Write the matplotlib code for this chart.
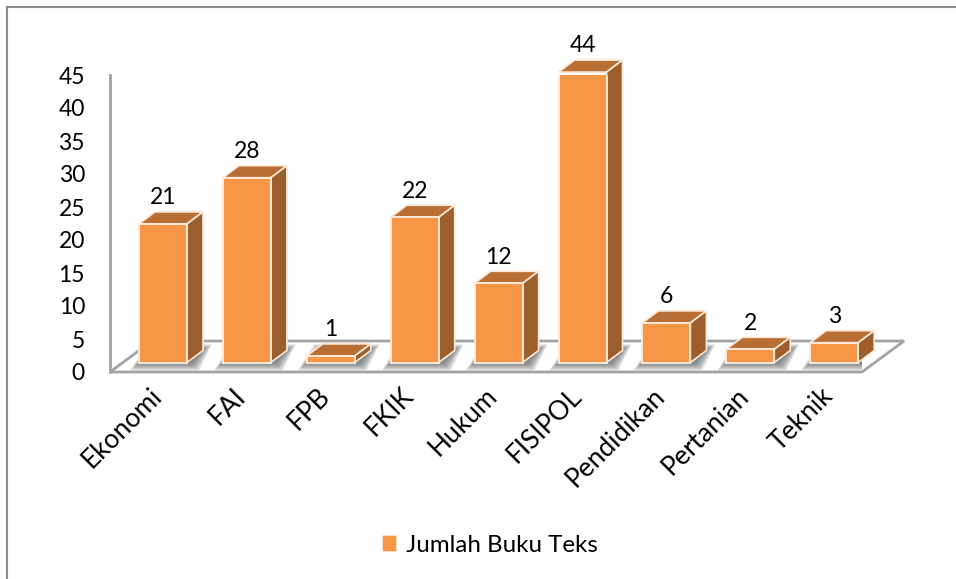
import matplotlib
matplotlib.use("Agg")
import matplotlib.pyplot as plt
from matplotlib.lines import Line2D
from matplotlib.patches import Polygon, Patch
from matplotlib.transforms import ScaledTranslation
import numpy as np

plt.rcParams['font.family'] = ['Lato', 'DejaVu Sans']

fakultas = ["Ekonomi", "FAI", "FPB", "FKIK", "Hukum", "FISIPOL", "Pendidikan", "Pertanian", "Teknik"]
jumlah = [21, 28, 1, 22, 12, 44, 6, 2, 3]
yticks = [0, 5, 10, 15, 20, 25, 30, 35, 40, 45]
legend_label = "Jumlah Buku Teks"

FRONT = "#f79646"
TOP = "#b96f33"
SIDE = "#9c5f2b"
GREY = "#a3a3a3"

W, H = 956, 579
fig = plt.figure(figsize=(W/100, H/100), dpi=100, facecolor="white")
ax = fig.add_axes([110/W, (H-372)/H, (862-110)/W, (372-75)/H])

# pixel sizes -> data units
xpx = 83.9
ypx = (372-75)/45
x0 = (110-163)/xpx
x1 = (862-163)/xpx
ax.set_xlim(x0, x1)
ax.set_ylim(0, 45)

# floor of the 3d box
fdx, fdy = 42/xpx, 31/ypx
floor = Polygon([(x0, 0), (x1, 0), (x1+fdx, fdy), (x0+fdx, fdy)], closed=True,
                facecolor="white", edgecolor=GREY, lw=2, clip_on=False, zorder=1)
ax.add_patch(floor)

lift = 9.5/ypx
half = 24/xpx
dx, dy = 16/xpx, 12/ypx
x = np.arange(len(fakultas))

# soft shadows on the floor
for xi in x:
    for g in range(9, 0, -1):
        gx, gy = g/xpx, g/ypx
        shadow = Polygon([(xi-half-gx, lift-gy*0.9), (xi+half+dx*0.2+gx, lift-gy*0.9),
                          (xi+half+dx+gx, lift+dy+gy*0.7), (xi-half+dx-gx, lift+dy+gy*0.7)],
                         closed=True, facecolor="#444444", edgecolor="none", alpha=0.1, zorder=2)
        ax.add_patch(shadow)

bars = ax.bar(x, jumlah, width=2*half, bottom=lift, color=FRONT, edgecolor="#fde9d9", lw=1.4,
              zorder=4, label=legend_label)

for xi, v in zip(x, jumlah):
    t = lift + v
    ax.add_patch(Polygon([(xi-half, t), (xi+half, t), (xi+half+dx, t+dy), (xi-half+dx, t+dy)], closed=True,
                         facecolor=TOP, edgecolor="#fde9d9", lw=1.2, zorder=3, clip_on=False))
    ax.add_patch(Polygon([(xi+half, lift), (xi+half+dx, lift+dy), (xi+half+dx, t+dy), (xi+half, t)], closed=True,
                         facecolor=SIDE, edgecolor="#fde9d9", lw=1.2, zorder=3, clip_on=False))
    ax.annotate(str(v), (xi, t), xytext=(0, 18.8), textcoords="offset points", ha="center", va="center",
                fontsize=16.5, color="black", zorder=5, annotation_clip=False)

for s in ["top", "right", "bottom"]:
    ax.spines[s].set_visible(False)
ax.spines["left"].set_color(GREY)
ax.spines["left"].set_linewidth(2)
ax.patch.set_alpha(0)

ax.set_yticks(yticks)
ax.tick_params(axis="y", length=0, pad=18, labelsize=16.5)
ax.set_xticks(x)
ax.set_xticklabels(fakultas, rotation=45, ha="right", rotation_mode="anchor", fontsize=19)
ax.tick_params(axis="x", length=0, pad=8)
shift = ScaledTranslation(-10/72, 0, fig.dpi_scale_trans)
for lab in ax.get_xticklabels():
    lab.set_transform(lab.get_transform() + shift)

handle = Patch(facecolor=FRONT, edgecolor="#fde9d9", lw=0.5)
fig.legend([handle], [legend_label], loc="center", bbox_to_anchor=(490/W, (H-545)/H), frameon=False,
           fontsize=17.4, handlelength=0.6, handleheight=0.6, handletextpad=0.4)

# chart frame, only top and left show in the crop
fig.add_artist(Line2D([7/W, 7/W], [0, (H-7)/H], color="#8c8c8c", lw=1.5))
fig.add_artist(Line2D([7/W, 1], [(H-7)/H, (H-7)/H], color="#8c8c8c", lw=1.5))

fig.savefig("out.png", dpi=100)
